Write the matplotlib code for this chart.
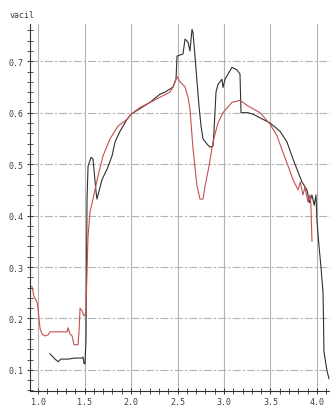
import matplotlib
matplotlib.use("Agg")
import matplotlib.pyplot as plt
from matplotlib.ticker import MultipleLocator

# red curve
red_x = [0.914, 0.935, 0.957, 0.989, 1.0, 1.022, 1.043, 1.075, 1.108, 1.129, 1.215, 1.312,
         1.323, 1.344, 1.366, 1.387, 1.430, 1.441, 1.452, 1.473, 1.495, 1.516, 1.527, 1.538,
         1.559, 1.591, 1.645, 1.699, 1.774, 1.860, 1.957, 2.0, 2.097, 2.204, 2.312, 2.419,
         2.452, 2.495, 2.527, 2.581, 2.613, 2.634, 2.667, 2.710, 2.742, 2.774, 2.796, 2.839,
         2.882, 2.935, 2.989, 3.086, 3.172, 3.258, 3.387, 3.495, 3.570, 3.634, 3.688, 3.742,
         3.796, 3.82, 3.849, 3.87, 3.903, 3.925, 3.935, 3.946]
red_y = [0.263, 0.262, 0.242, 0.232, 0.219, 0.18, 0.17, 0.166, 0.168, 0.174, 0.174, 0.174,
         0.182, 0.170, 0.166, 0.149, 0.149, 0.175, 0.22, 0.215, 0.205, 0.21, 0.296, 0.36,
         0.407, 0.432, 0.477, 0.516, 0.549, 0.574, 0.587, 0.597, 0.61, 0.62, 0.63, 0.64,
         0.65, 0.67, 0.66, 0.65, 0.63, 0.607, 0.529, 0.457, 0.432, 0.432, 0.457, 0.496,
         0.543, 0.58, 0.60, 0.62, 0.624, 0.613, 0.60, 0.578, 0.555, 0.523, 0.497, 0.47,
         0.45, 0.465, 0.44, 0.455, 0.426, 0.44, 0.42, 0.35]

# black curve
blk_x = [1.129, 1.151, 1.183, 1.215, 1.247, 1.323, 1.398, 1.473, 1.484, 1.495, 1.505, 1.516,
         1.527, 1.538, 1.570, 1.591, 1.624, 1.634, 1.688, 1.742, 1.796, 1.828, 1.882, 1.957,
         2.0, 2.097, 2.204, 2.312, 2.366, 2.419, 2.452, 2.484, 2.495, 2.559, 2.581, 2.613,
         2.634, 2.656, 2.667, 2.688, 2.710, 2.731, 2.753, 2.774, 2.817, 2.849, 2.882, 2.892,
         2.914, 2.935, 2.978, 2.989, 3.011, 3.043, 3.086, 3.140, 3.172, 3.183, 3.258, 3.312,
         3.495, 3.602, 3.677, 3.742, 3.785, 3.839, 3.892, 3.92, 3.946, 3.97, 3.989, 4.0,
         4.022, 4.043, 4.065, 4.07, 4.075, 4.108, 4.129]
blk_y = [0.131, 0.127, 0.121, 0.116, 0.121, 0.121, 0.123, 0.123, 0.125, 0.112, 0.112, 0.16,
         0.432, 0.496, 0.513, 0.51, 0.446, 0.432, 0.47, 0.49, 0.516, 0.543, 0.564, 0.587,
         0.597, 0.608, 0.62, 0.636, 0.64, 0.646, 0.65, 0.665, 0.71, 0.714, 0.743, 0.737,
         0.72, 0.762, 0.755, 0.71, 0.66, 0.613, 0.574, 0.549, 0.539, 0.533, 0.535, 0.562,
         0.64, 0.655, 0.665, 0.649, 0.665, 0.675, 0.688, 0.683, 0.675, 0.60, 0.60, 0.597,
         0.58, 0.564, 0.543, 0.51, 0.49, 0.465, 0.45, 0.425, 0.44, 0.42, 0.44, 0.39,
         0.34, 0.30, 0.25, 0.2, 0.135, 0.098, 0.083]

x_ticks = [1.0, 1.5, 2.0, 2.5, 3.0, 3.5, 4.0]
y_ticks = [0.1, 0.2, 0.3, 0.4, 0.5, 0.6, 0.7]

mono = "DejaVu Sans Mono"
fig = plt.figure(figsize=(3.3, 4.06), dpi=100)
ax = fig.add_axes([0.091, 0.0345, 0.909, 0.9035])

for xv in x_ticks:
    ax.axvline(xv, color="#b4b4b4", lw=0.8, zorder=0)
for yv in y_ticks:
    ax.axhline(yv, color="#b4b4b4", lw=0.8, dashes=(7, 2, 2, 2), zorder=0)

ax.plot(blk_x, blk_y, color="#303030", lw=0.8)
ax.plot(red_x, red_y, color="#c45050", lw=0.8)

ax.set_xlim(0.914, 4.14)
ax.set_ylim(0.059, 0.772)
ax.set_xticks(x_ticks)
ax.set_yticks(y_ticks)
ax.xaxis.set_minor_locator(MultipleLocator(0.1))
ax.yaxis.set_minor_locator(MultipleLocator(0.02))
ax.set_xticklabels([f"{v:.1f}" for v in x_ticks], fontfamily=mono, fontsize=6, color="#404040")
ax.set_yticklabels([f"{v:.1f}" for v in y_ticks], fontfamily=mono, fontsize=6, color="#404040")
ax.tick_params(which="major", direction="inout", length=5, width=0.7, pad=2, color="#303030")
ax.tick_params(which="minor", direction="inout", length=4, width=0.6, color="#303030")

for s in ["top", "right"]:
    ax.spines[s].set_visible(False)
for s in ["left", "bottom"]:
    ax.spines[s].set_linewidth(0.8)
    ax.spines[s].set_color("#303030")

fig.text(0.03, 0.955, "vacil", fontfamily=mono, fontsize=6, color="#404040")

fig.savefig("out.png", dpi=100)
